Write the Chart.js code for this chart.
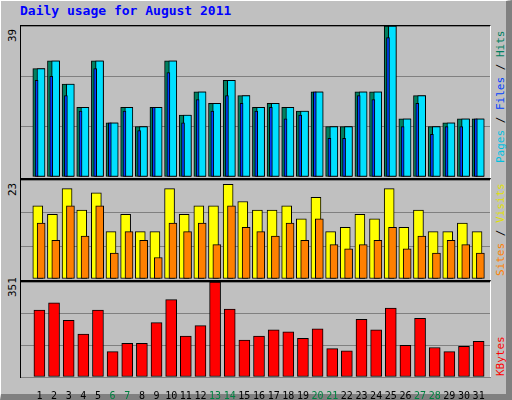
<!DOCTYPE html>
<html><head><meta charset="utf-8">
<script src="https://cdn.jsdelivr.net/npm/chart.js@4/dist/chart.umd.min.js"></script>
<style>
body{margin:0;width:512px;height:400px;background:#c0c0c0;position:relative;overflow:hidden;font-family:"DejaVu Sans Mono",monospace}
#frame{position:absolute;left:0;top:0;width:505px;height:393px;border-top:1px solid #fff;border-left:1px solid #fff;border-right:6px solid #808080;border-bottom:6px solid #808080;box-sizing:content-box}
#title{position:absolute;left:20px;top:3px;color:#0000ff;font-weight:bold;font-size:13px}
.plot{position:absolute;left:20px;width:471px;border-left:1px solid #000;border-top:1px solid #000;border-right:1px solid #fff;box-sizing:border-box}
canvas{position:absolute}
.lv{position:absolute;font-size:11px;transform:rotate(-90deg);transform-origin:left top;white-space:nowrap}
.rv{position:absolute;font-size:11px;transform:rotate(-90deg);transform-origin:left top;white-space:nowrap}
</style></head><body>
<div id="frame"></div>
<div id="title">Daily usage for August 2011</div>
<div class="plot" style="top:25px;height:153px"></div>
<div class="plot" style="top:178px;height:102px;border-top:2px solid #000"></div>
<div class="plot" style="top:280px;height:98px;border-top:2px solid #000;border-bottom:1px solid #000"></div>
<div class="lv" style="left:6px;top:42px">39</div>
<div class="lv" style="left:6px;top:196px">23</div>
<div class="lv" style="left:6px;top:297px">351</div>
<div class="rv" style="left:494px;top:163px"><span style="color:#00c0e0">Pages</span> / <span style="color:#0040ff">Files</span> / <span style="color:#008060">Hits</span></div>
<div class="rv" style="left:494px;top:276px"><span style="color:#ff8000">Sites</span> / <span style="color:#e0e000">Visits</span></div>
<div class="rv" style="left:494px;top:376px"><span style="color:#ff0000">KBytes</span></div>
<canvas id="c1" width="469" height="151" style="left:21px;top:26px"></canvas>
<canvas id="c2" width="469" height="99" style="left:21px;top:180px"></canvas>
<canvas id="c3" width="469" height="118" style="left:21px;top:282px"></canvas>
<script>
const days=[1,2,3,4,5,6,7,8,9,10,11,12,13,14,15,16,17,18,19,20,21,22,23,24,25,26,27,28,29,30,31];
const weekends=[6,7,13,14,20,21,27,28];
const hits=[28,30,24,18,30,14,18,13,18,30,16,22,19,25,21,18,19,18,17,22,13,13,22,22,39,15,21,13,14,15,15];
const files=[28,30,24,18,30,14,18,13,18,30,16,22,19,25,21,18,19,18,17,22,13,13,22,22,39,15,21,13,14,15,15];
const pages=[25,26,21,17,28,14,17,12,18,27,14,20,17,21,19,17,18,15,16,22,10,10,21,20,36,13,19,11,13,13,15];
const visits=[17,15,21,16,20,11,15,11,11,21,15,17,17,22,18,16,16,17,14,19,11,12,15,14,21,12,16,11,11,13,11];
const sites=[13,9,17,10,17,6,11,9,5,13,11,13,8,17,12,11,10,13,9,14,8,7,8,9,12,7,10,6,9,8,6];
const kbytes=[247,274,209,159,247,94,124,124,201,286,151,190,351,251,136,151,174,167,143,178,105,97,213,174,255,117,217,109,94,113,132];

const pts=(arr,off)=>arr.map((v,i)=>({x:days[i]+off,y:v}));
const bar=(data,off,color,w)=>({data:pts(data,off),backgroundColor:color,borderColor:'#000',borderWidth:1,barThickness:w,grouped:false,borderSkipped:false});
function opts(max,showX){
  return {responsive:false,animation:false,maintainAspectRatio:false,
    plugins:{legend:{display:false},tooltip:{enabled:false}},
    layout:{padding:0},
    scales:{
      x:{type:'linear',min:0.5,max:31.5,display:showX,grid:{display:false},border:{display:false},
        afterBuildTicks:s=>{s.ticks=days.map(d=>({value:d+0.24}));},
        afterFit:s=>{s.height=showX?23:0;},
        ticks:{autoSkip:false,maxRotation:0,padding:5,font:{family:'DejaVu Sans Mono',size:10},
          callback:v=>Math.round(v-0.24),
          color:c=>weekends.includes(Math.round(c.tick.value-0.24))?'#008040':'#000'}},
      y:{min:0,max:max,afterBuildTicks:s=>{s.ticks=[0,max/3,2*max/3,max].map(v=>({value:v}));},
        afterFit:s=>{s.width=0;},
        ticks:{display:false},border:{display:false},grid:{color:'#808080',drawTicks:false}}
    }};
}
new Chart(document.getElementById('c1'),{type:'bar',data:{datasets:[
  bar(pages,0.05,'#0040ff',3),
  bar(files,0.35,'#00e0ff',8),
  bar(hits,0.2,'#008060',12)
]},options:opts(39,false)});
new Chart(document.getElementById('c2'),{type:'bar',data:{datasets:[
  bar(sites,0.36,'#ff8000',8),
  bar(visits,0.13,'#ffff00',10)
]},options:opts(23,false)});
new Chart(document.getElementById('c3'),{type:'bar',data:{datasets:[
  bar(kbytes,0.24,'#ff0000',11)
]},options:opts(351,true)});
</script>
</body></html>
